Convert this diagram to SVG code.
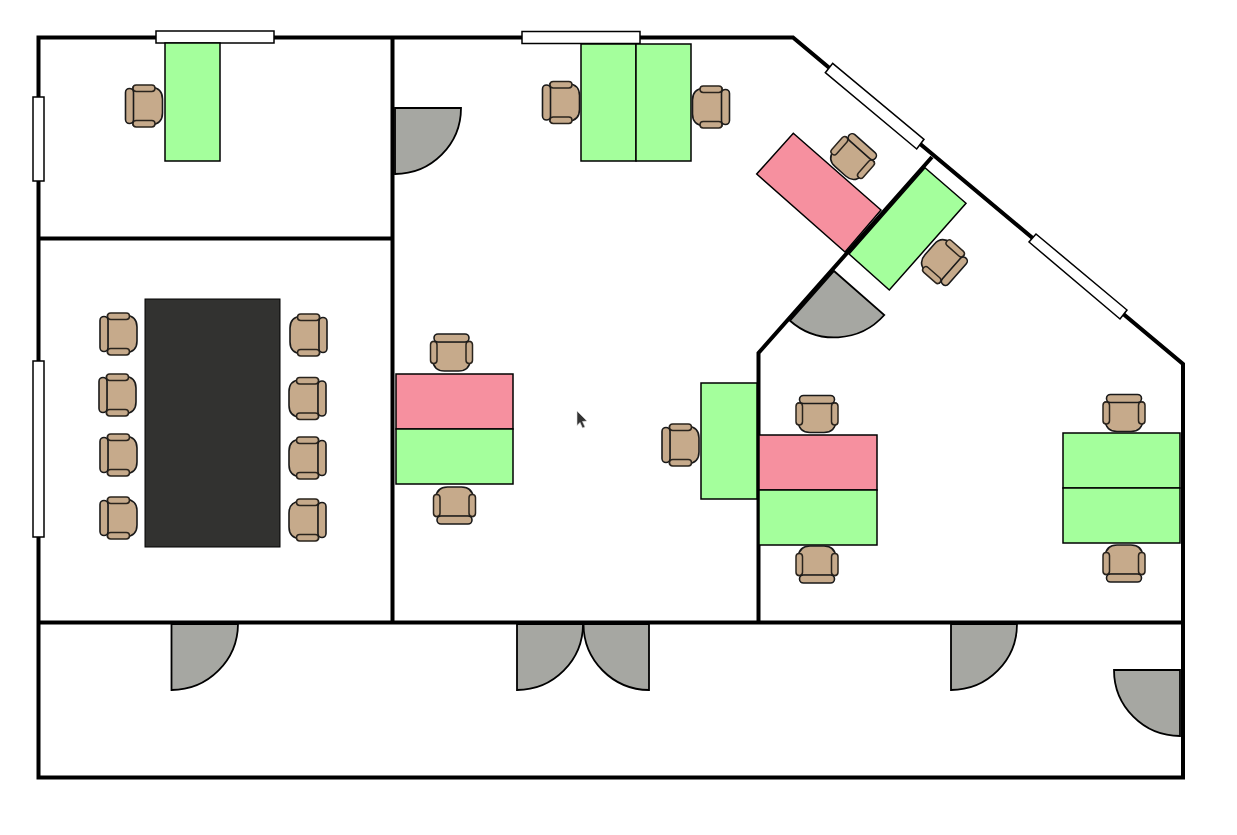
<svg xmlns="http://www.w3.org/2000/svg" width="1237" height="835" viewBox="0 0 1237 835">
<style>
.wall{fill:none;stroke:#000;stroke-width:4;stroke-linejoin:miter}
.win{fill:#fff;stroke:#000;stroke-width:1.5}
.door{fill:#a6a7a2;stroke:#000;stroke-width:1.8}
.g{fill:#a4ff9c;stroke:#000;stroke-width:1.5}
.p{fill:#f6909f;stroke:#000;stroke-width:1.5}
.c{fill:#c6aa8b;stroke:#1a1a1a;stroke-width:1.6;stroke-linejoin:round}
.a{fill:#c6aa8b;stroke:#2a241d;stroke-width:1.5}
</style>
<defs>
<g id="chair">
<path class="c" d="M-11,-19 H7 Q18.500,-18 18.500,-7 V7 Q18.500,18 7,19 H-11 Z"/>
<rect class="a" x="-11" y="-21" width="22" height="6.500" rx="3.200"/>
<rect class="a" x="-11" y="14.500" width="22" height="6.500" rx="3.200"/>
<rect class="c" x="-18.500" y="-17.500" width="8" height="35" rx="4"/>
</g>
</defs>
<rect width="1237" height="835" fill="#fff"/>
<g id="walls">
<path class="wall" d="M38.500,37.500 H793 L1183,364 V777.500 H38.500 Z"/>
<path class="wall" d="M392.500,37.500 V622.500 M38.500,238.500 H392.500 M38.500,622.500 H1183 M758.500,622.500 V353 L932,157"/>
</g>
<g id="windows">
<rect class="win" x="156" y="31" width="118" height="12"/>
<rect class="win" x="522" y="31.500" width="118" height="12"/>
<rect class="win" x="33" y="97" width="11" height="84"/>
<rect class="win" x="33" y="361" width="11" height="176"/>
<polygon class="win" points="832.700,63.300 924,139.300 916.700,149 825.300,72.700"/>
<polygon class="win" points="1036,234 1127,310 1120,319 1029,242"/>
</g>
<g id="doors">
<path class="door" d="M395,108 H461 A66,66 0 0 1 395,174 Z"/>
<path class="door" d="M171.500,624 H238 A66.500,66.500 0 0 1 171.500,690 Z"/>
<path class="door" d="M517,624 H583 A66,66 0 0 1 517,690 Z"/>
<path class="door" d="M649,624 H583.500 A66,66 0 0 0 649,690 Z"/>
<path class="door" d="M951,624 H1017 A66,66 0 0 1 951,690 Z"/>
<path class="door" d="M1180,670 H1114 A66,66 0 0 0 1180,736 Z"/>
<path class="door" d="M834,271 L884.300,315 A67,67 0 0 1 790,320.700 Z"/>
</g>
<g id="desks">
<rect class="g" x="165" y="43" width="55" height="118"/>
<rect class="g" x="581" y="44" width="55" height="117"/>
<rect class="g" x="636" y="44" width="55" height="117"/>
<polygon class="p" points="793.300,133.300 881,210 845,252 756.700,174"/>
<polygon class="g" points="925,167.700 966,203.300 889.300,290 849,254"/>
<rect x="145" y="299" width="135" height="248" fill="#323230" stroke="#000"/>
<rect class="p" x="396" y="374" width="117" height="55"/>
<rect class="g" x="396" y="429" width="117" height="55"/>
<rect class="g" x="701" y="383" width="56" height="116"/>
<rect class="p" x="759" y="435" width="118" height="55"/>
<rect class="g" x="759" y="490" width="118" height="55"/>
<rect class="g" x="1063" y="433" width="117" height="55"/>
<rect class="g" x="1063" y="488" width="117" height="55"/>
</g>
<g id="chairs">
<use href="#chair" transform="translate(144,106)"/>
<use href="#chair" transform="translate(561,102.500)"/>
<use href="#chair" transform="translate(711,107) rotate(180)"/>
<use href="#chair" transform="translate(852.700,157.500) rotate(131.500)"/>
<use href="#chair" transform="translate(943.500,261.700) rotate(221.300)"/>
<use href="#chair" transform="translate(118.500,334)"/>
<use href="#chair" transform="translate(117.500,395)"/>
<use href="#chair" transform="translate(118.500,455)"/>
<use href="#chair" transform="translate(118.500,518)"/>
<use href="#chair" transform="translate(308.500,335) rotate(180)"/>
<use href="#chair" transform="translate(307.500,398.500) rotate(180)"/>
<use href="#chair" transform="translate(307.500,458) rotate(180)"/>
<use href="#chair" transform="translate(307.500,520) rotate(180)"/>
<use href="#chair" transform="translate(451.500,352.500) rotate(90)"/>
<use href="#chair" transform="translate(454.500,505.500) rotate(-90)"/>
<use href="#chair" transform="translate(680.500,445)"/>
<use href="#chair" transform="translate(817,414) rotate(90)"/>
<use href="#chair" transform="translate(817,564.500) rotate(-90)"/>
<use href="#chair" transform="translate(1124,413) rotate(90)"/>
<use href="#chair" transform="translate(1124,563.500) rotate(-90)"/>
</g>
<polygon id="cursor" points="577,411 587,421 582.500,421.500 585,427 582.500,428 580,422.500 577,425.500" fill="#333" stroke="#ddd" stroke-width="0.6"/>
</svg>
